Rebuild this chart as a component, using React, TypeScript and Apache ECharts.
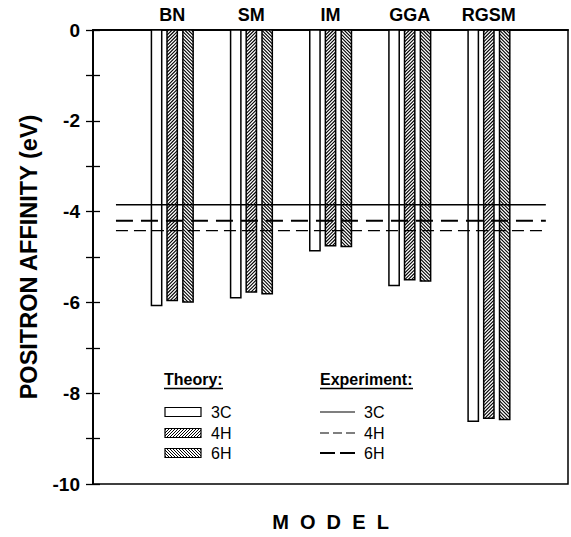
import React, { useEffect, useRef } from "react";
import * as echarts from "echarts";

const categories = ["BN", "SM", "IM", "GGA", "RGSM"];
const theory3C = [-6.07, -5.9, -4.86, -5.63, -8.62];
const theory4H = [-5.96, -5.77, -4.75, -5.5, -8.55];
const theory6H = [-5.99, -5.81, -4.77, -5.53, -8.58];
const exp3C = -3.85;
const exp4H = -4.42;
const exp6H = -4.2;
const expXRange = [0.29, 5.72];

const FONT = "'Liberation Sans', Arial, Helvetica, sans-serif";

function hatchLines(x0: number, y0: number, w: number, h: number, dir: "fwd" | "back", step: number, lw: number) {
  const out: any[] = [];
  if (dir === "fwd") {
    for (let c = step / 2; c < w + h; c += step) {
      const uS = Math.max(0, c - h);
      const uE = Math.min(w, c);
      out.push({
        type: "line",
        shape: { x1: x0 + uS, y1: y0 + (c - uS), x2: x0 + uE, y2: y0 + (c - uE) },
        style: { stroke: "#000", lineWidth: lw },
        silent: true,
      });
    }
  } else {
    for (let c = -h + step / 2; c < w; c += step) {
      const vS = Math.max(0, -c);
      const vE = Math.min(h, w - c);
      out.push({
        type: "line",
        shape: { x1: x0 + c + vS, y1: y0 + vS, x2: x0 + c + vE, y2: y0 + vE },
        style: { stroke: "#000", lineWidth: lw },
        silent: true,
      });
    }
  }
  return out;
}

function makeRenderItem(offset: number, hatch: "none" | "fwd" | "back") {
  return (params: any, api: any) => {
    const x = api.value(0) + offset;
    const v = api.value(1);
    const top = api.coord([x, 0]);
    const bot = api.coord([x, v]);
    const w = api.size([0.13, 0])[0];
    const x0 = top[0] - w / 2;
    const y0 = top[1];
    const h = bot[1] - top[1];
    const children: any[] = [
      { type: "rect", shape: { x: x0, y: y0, width: w, height: h }, style: { fill: "#fff", stroke: "none" } },
    ];
    if (hatch !== "none") children.push(...hatchLines(x0, y0, w, h, hatch, 3.4, 1.1));
    children.push({
      type: "rect",
      shape: { x: x0, y: y0, width: w, height: h },
      style: { fill: "none", stroke: "#000", lineWidth: 1.5 },
    });
    return { type: "group", children };
  };
}

export default function App() {
  const ref = useRef<HTMLDivElement>(null);
  useEffect(() => {
    const chart = echarts.init(ref.current!, null, { renderer: "svg" });

    const legendGraphics: any[] = [];
    const rowsY = [412, 433, 453];
    const names = ["3C", "4H", "6H"];
    const hatches: ("none" | "fwd" | "back")[] = ["none", "fwd", "back"];
    legendGraphics.push({
      type: "text", x: 164, y: 379,
      style: { text: "Theory:", font: `bold 16px ${FONT}`, fill: "#000", verticalAlign: "middle", align: "left" },
    });
    legendGraphics.push({ type: "line", shape: { x1: 164, y1: 388.5, x2: 223, y2: 388.5 }, style: { stroke: "#000", lineWidth: 1.4 } });
    legendGraphics.push({
      type: "text", x: 320, y: 379,
      style: { text: "Experiment:", font: `bold 16px ${FONT}`, fill: "#000", verticalAlign: "middle", align: "left" },
    });
    legendGraphics.push({ type: "line", shape: { x1: 320, y1: 388.5, x2: 413, y2: 388.5 }, style: { stroke: "#000", lineWidth: 1.4 } });

    const expDash: any[] = [null, [9, 4], [15, 5]];
    const expW = [1.2, 1.2, 2];
    rowsY.forEach((ry, i) => {
      const bx = 165, bw = 36, bh = 9, by = ry - bh / 2;
      legendGraphics.push({ type: "rect", shape: { x: bx, y: by, width: bw, height: bh }, style: { fill: "#fff", stroke: "none" } });
      if (hatches[i] !== "none") legendGraphics.push(...hatchLines(bx, by, bw, bh, hatches[i], 3, 1));
      legendGraphics.push({ type: "rect", shape: { x: bx, y: by, width: bw, height: bh }, style: { fill: "none", stroke: "#000", lineWidth: 1.2 } });
      legendGraphics.push({
        type: "text", x: 211, y: ry,
        style: { text: names[i], font: `16px ${FONT}`, fill: "#000", verticalAlign: "middle", align: "left" },
      });
      legendGraphics.push({
        type: "line", shape: { x1: 320, y1: ry, x2: 355, y2: ry },
        style: { stroke: "#000", lineWidth: expW[i], lineDash: expDash[i] || undefined },
      });
      legendGraphics.push({
        type: "text", x: 364, y: ry,
        style: { text: names[i], font: `16px ${FONT}`, fill: "#000", verticalAlign: "middle", align: "left" },
      });
    });

    const expLine = (name: string, val: number, width: number, dash: any) => ({
      name,
      type: "line",
      xAxisIndex: 0,
      yAxisIndex: 0,
      data: [[expXRange[0], val], [expXRange[1], val]],
      symbol: "none",
      lineStyle: { color: "#000", width, type: dash },
      z: 5,
    });

    const option: any = {
      animation: false,
      backgroundColor: "#fff",
      textStyle: { fontFamily: FONT },
      grid: { left: 93, right: 2, top: 30, bottom: 51, show: true, borderColor: "#000", borderWidth: 1.5, backgroundColor: "transparent" },
      xAxis: [
        {
          type: "value", position: "top", min: 0, max: 6, interval: 1,
          axisLine: { show: true, lineStyle: { color: "#000", width: 1.5 } },
          axisTick: { show: false },
          splitLine: { show: false },
          axisLabel: {
            show: true, margin: 6, color: "#000", fontWeight: "bold", fontSize: 18, fontFamily: FONT,
            formatter: (v: number) => categories[v - 1] || "",
          },
        },
        {
          type: "value", position: "bottom", min: 0, max: 6, interval: 1,
          name: "M  O  D  E  L", nameLocation: "middle", nameGap: 28,
          nameTextStyle: { color: "#000", fontWeight: "bold", fontSize: 20, fontFamily: FONT },
          axisLine: { show: true, lineStyle: { color: "#000", width: 1.5 } },
          axisTick: { show: false }, axisLabel: { show: false }, splitLine: { show: false },
        },
      ],
      yAxis: [
        {
          type: "value", min: -10, max: 0, interval: 2, position: "left",
          name: "POSITRON AFFINITY (eV)", nameLocation: "middle", nameGap: 52,
          nameTextStyle: { color: "#000", fontWeight: "bold", fontSize: 23.5, fontFamily: FONT },
          axisLine: { show: true, lineStyle: { color: "#000", width: 1.5 } },
          axisTick: { show: true, inside: true, length: 7, lineStyle: { color: "#000", width: 1.3 } },
          minorTick: { show: true, splitNumber: 2, length: 7, lineStyle: { color: "#000", width: 1.3 } },
          splitLine: { show: false },
          axisLabel: { color: "#000", fontWeight: "bold", fontSize: 19, margin: 13, fontFamily: FONT },
        },
        {
          type: "value", min: -10, max: 0, interval: 2, position: "right",
          axisLine: { show: true, lineStyle: { color: "#000", width: 1.5 } },
          axisTick: { show: true, inside: true, length: 7, lineStyle: { color: "#000", width: 1.3 } },
          minorTick: { show: true, splitNumber: 2, length: 7, lineStyle: { color: "#000", width: 1.3 } },
          splitLine: { show: false },
          axisLabel: { show: false },
        },
      ],
      series: [
        expLine("Experiment 3C", exp3C, 1.5, "solid"),
        expLine("Experiment 4H", exp4H, 1.3, [12, 6]),
        expLine("Experiment 6H", exp6H, 2, [17, 8]),
        {
          name: "Theory 3C", type: "custom", xAxisIndex: 0, yAxisIndex: 0,
          renderItem: makeRenderItem(-0.197, "none"),
          data: categories.map((c, i) => [i + 1, theory3C[i]]), z: 3,
        },
        {
          name: "Theory 4H", type: "custom", xAxisIndex: 0, yAxisIndex: 0,
          renderItem: makeRenderItem(0, "fwd"),
          data: categories.map((c, i) => [i + 1, theory4H[i]]), z: 3,
        },
        {
          name: "Theory 6H", type: "custom", xAxisIndex: 0, yAxisIndex: 0,
          renderItem: makeRenderItem(0.2, "back"),
          data: categories.map((c, i) => [i + 1, theory6H[i]]), z: 3,
        },
      ],
      graphic: legendGraphics,
    };
    chart.setOption(option);
    return () => chart.dispose();
  }, []);
  return <div ref={ref} style={{ position: "absolute", left: 0, top: 0, width: 571, height: 537 }} />;
}
